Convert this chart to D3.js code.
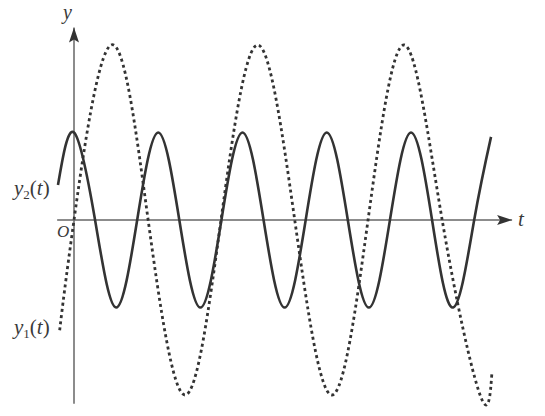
<!doctype html>
<html>
  <head>
    <meta charset="utf-8">
    <title>y1(t) and y2(t)</title>
    <script src="https://cdnjs.cloudflare.com/ajax/libs/d3/7.8.5/d3.min.js"></script>
    <style>
      body { margin: 0; background: #fff; }
      text { font-family: "Liberation Serif", "DejaVu Serif", serif; fill: #3a3a3a; }
    </style>
  </head>
  <body>
    <div id="chart"></div>
    <script>
      // points (t in periods of y2, y in units of y2's amplitude)
      const y2T = [-0.19, 0, 0.25, 0.5, 0.75, 1, 1.25, 1.5, 1.75, 2, 2.25, 2.5, 2.75, 3, 3.25, 3.5, 3.75, 4, 4.25, 4.5, 4.75, 4.95];
      const y2V = [0.4, 1, 0, -1, 0, 1, 0, -1, 0, 1, 0, -1, 0, 1, 0, -1, 0, 1, 0, -1, 0, 0.95];

      const y1T = [-0.17, 0, 0.44, 0.88, 1.32, 1.745, 2.18, 2.62, 3.06, 3.49, 3.92, 4.37, 4.82, 4.96];
      const y1V = [-1.26, 0, 2, 0, -2, 0, 2, 0, -2, 0, 2, 0, -2, -1.75];

      const tRange = [-0.2, 5.2];
      const yRange = [-2.1, 2.2];

      const width = 545, height = 416;

      const svg = d3.select('#chart')
        .append('svg')
        .attr('width', width)
        .attr('height', height);

      const x = d3.scaleLinear().domain([0, 1]).range([74, 158.25]);
      const y = d3.scaleLinear().domain([0, 1]).range([220, 132.5]);

      const axisColor = '#666';

      // arrow heads
      const defs = svg.append('defs');
      defs.append('marker')
        .attr('id', 'arrow')
        .attr('viewBox', '0 0 15 10')
        .attr('refX', 15).attr('refY', 5)
        .attr('markerWidth', 15).attr('markerHeight', 10)
        .attr('markerUnits', 'userSpaceOnUse')
        .attr('orient', 'auto')
        .append('path')
        .attr('d', 'M0,0 L15,5 L0,10 L3,5 Z')
        .attr('fill', '#333');

      // t axis
      svg.append('line')
        .attr('x1', x(tRange[0])).attr('x2', x(tRange[1]))
        .attr('y1', y(0)).attr('y2', y(0))
        .attr('stroke', axisColor).attr('stroke-width', 1.5)
        .attr('marker-end', 'url(#arrow)');

      // y axis
      svg.append('line')
        .attr('x1', x(0)).attr('x2', x(0))
        .attr('y1', y(yRange[0])).attr('y2', y(yRange[1]))
        .attr('stroke', axisColor).attr('stroke-width', 1.5)
        .attr('marker-end', 'url(#arrow)');

      const line = d3.line()
        .x(d => x(d[0]))
        .y(d => y(d[1]))
        .curve(d3.curveNatural);

      // y1(t) dashed
      svg.append('path')
        .datum(d3.zip(y1T, y1V))
        .attr('d', line)
        .attr('fill', 'none')
        .attr('stroke', '#333')
        .attr('stroke-width', 2.8)
        .attr('stroke-dasharray', '3,3.2');

      // y2(t) solid
      svg.append('path')
        .datum(d3.zip(y2T, y2V))
        .attr('d', line)
        .attr('fill', 'none')
        .attr('stroke', '#333')
        .attr('stroke-width', 2.6);

      // labels
      svg.append('text')
        .attr('x', 63).attr('y', 19)
        .attr('font-size', 20).attr('font-style', 'italic')
        .text('y');

      svg.append('text')
        .attr('x', 518).attr('y', 226)
        .attr('font-size', 21).attr('font-style', 'italic')
        .text('t');

      svg.append('text')
        .attr('x', 57).attr('y', 237)
        .attr('font-size', 17).attr('font-style', 'italic')
        .text('O');

      function curveLabel(lx, ly, sub) {
        const t = svg.append('text').attr('x', lx).attr('y', ly).attr('font-size', 21);
        t.append('tspan').attr('font-style', 'italic').text('y');
        t.append('tspan').attr('font-size', 13).attr('dy', 4).text(sub);
        t.append('tspan').attr('dy', -4).text('(');
        t.append('tspan').attr('font-style', 'italic').text('t');
        t.append('tspan').text(')');
      }
      curveLabel(14, 195, '2');
      curveLabel(14, 334, '1');
    </script>
  </body>
</html>
